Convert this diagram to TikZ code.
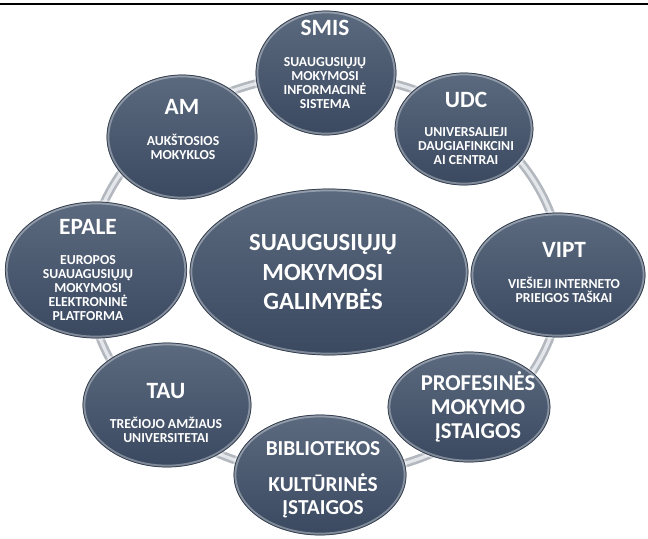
\documentclass[tikz,border=0pt]{standalone}
\usepackage{fontspec}
\setmainfont{Carlito}
\usetikzlibrary{shapes.geometric}
\definecolor{bubtop}{HTML}{5C6A7F}
\definecolor{bubbot}{HTML}{3A4960}
\definecolor{bubedge}{HTML}{2F3B4D}
\definecolor{ringc}{HTML}{B3B8BF}
\definecolor{ringl}{HTML}{E3E6EA}
\tikzset{
  bub/.style={ellipse, inner sep=0pt, top color=bubtop, bottom color=bubbot,
    draw=bubedge, line width=0.6pt,
    postaction={draw=white, draw opacity=0.35, line width=3.5pt},
    postaction={draw=bubedge, line width=0.5pt}},
  ttl/.style={text=white, font=\fontsize{17.5}{19}\selectfont\bfseries, inner sep=0pt},
  sml/.style={text=white, font=\fontsize{10.3}{10.6}\selectfont\bfseries, align=center, inner sep=0pt},
  big/.style={text=white, font=\fontsize{16}{17.3}\selectfont\bfseries, align=center, inner sep=0pt},
  ctr/.style={text=white, font=\fontsize{18.5}{22}\selectfont\bfseries, align=center, inner sep=0pt},
}
\begin{document}
\begin{tikzpicture}[x=0.75pt,y=-0.75pt]
\useasboundingbox (0,0) rectangle (648,538);
\draw[line width=1.5pt] (0,4) -- (648,4);
% ring
\draw[ringc, line width=6.5pt] (325,275) ellipse [x radius=237, y radius=200];
\draw[ringl, line width=2.5pt] (325,275) ellipse [x radius=237, y radius=200];
% bubbles
\node[bub, minimum width=105pt, minimum height=93pt] (smis) at (326,73) {};
\node[bub, minimum width=103.5pt, minimum height=84pt] (udc) at (464,129) {};
\node[bub, minimum width=130.5pt, minimum height=93pt] (vipt) at (558,275) {};
\node[bub, minimum width=121.5pt, minimum height=82.5pt] (prof) at (469,407) {};
\node[bub, minimum width=129pt, minimum height=90pt] (bib) at (320,475) {};
\node[bub, minimum width=126pt, minimum height=93pt] (tau) at (167,405) {};
\node[bub, minimum width=136pt, minimum height=102pt] (epale) at (96,270) {};
\node[bub, minimum width=112.5pt, minimum height=93pt] (am) at (182,137) {};
\node[bub, minimum width=208.5pt, minimum height=124.5pt] (ctrb) at (329,272) {};
% texts
\node[ttl] (smist) at (325,28) {SMIS};
\node[sml] (smiss) at (325,83) {SUAUGUSIŲJŲ\\MOKYMOSI\\INFORMACINĖ\\SISTEMA};
\node[ttl] (udct) at (466,100) {UDC};
\node[sml] (udcs) at (466,146) {UNIVERSALIEJI\\DAUGIAFINKCINI\\AI CENTRAI};
\node[ttl] (viptt) at (564,250) {VIPT};
\node[sml] (vipts) at (564,290) {VIEŠIEJI INTERNETO\\PRIEIGOS TAŠKAI};
\node[ttl] (epalet) at (88,227) {EPALE};
\node[sml] (epales) at (88,288) {EUROPOS\\SUAUAGUSIŲJŲ\\MOKYMOSI\\ELEKTRONINĖ\\PLATFORMA};
\node[ttl] (amt) at (182,107) {AM};
\node[sml] (ams) at (183,147) {AUKŠTOSIOS\\MOKYKLOS};
\node[ttl] (taut) at (166,391) {TAU};
\node[sml] (taus) at (166,430) {TREČIOJO AMŽIAUS\\UNIVERSITETAI};
\node[ctr] (ctrt) at (323,272) {SUAUGUSIŲJŲ\\MOKYMOSI\\GALIMYBĖS};
\node[big, font=\fontsize{17}{18}\selectfont\bfseries] (proft) at (478,407) {PROFESINĖS\\MOKYMO\\ĮSTAIGOS};
\node[big] (bibt) at (323,449) {BIBLIOTEKOS};
\node[big] (bibs) at (323,496) {KULTŪRINĖS\\ĮSTAIGOS};
\end{tikzpicture}
\end{document}
